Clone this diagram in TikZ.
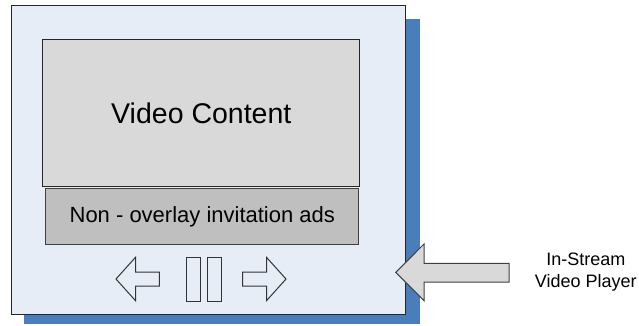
\documentclass[tikz,border=0pt]{standalone}
\usepackage{fontspec}
\setmainfont{Liberation Sans}
\usepackage{xcolor}
\usetikzlibrary{calc}
\usetikzlibrary{positioning}
\definecolor{shadowblue}{HTML}{4A7EBB}
\definecolor{playerbg}{HTML}{E7EDF7}
\definecolor{screengray}{HTML}{D9D9D9}
\definecolor{adgray}{HTML}{BFBFBF}

\begin{document}
\begin{tikzpicture}[x=1pt, y=-1pt, line width=1pt]
  \tikzstyle{box}=[draw=black!85, inner sep=0pt, anchor=north west]
  \tikzstyle{btn}=[draw=black!80, fill=playerbg, line join=miter]
\useasboundingbox (0,0) rectangle (639,325);
% player with its shadow
\fill[shadowblue] (24,19) rectangle (420,324.3);
\node[box, fill=playerbg, minimum width=394.3pt, minimum height=309pt] (player) at (10.7,5) {};
\node[box, fill=screengray, minimum width=317pt, minimum height=147.3pt,
      font=\fontsize{28.5}{32}\selectfont] (screen) at (42.3,38.7) {Video Content};
\node[box, draw=black!75, fill=adgray, minimum width=313pt, minimum height=56pt,
      font=\fontsize{22}{26}\selectfont] (ads) at (45.3,188.3) {Non - overlay invitation ads};
% controls
\foreach \d/\cx in {-1/137.65, 1/264.35}{
    \draw[btn, shift={(\cx,279)}, xscale=\d] (21.65,0) -- (2.15,-21.7) -- (2.15,-7)
        -- (-21.65,-7) -- (-21.65,7) -- (2.15,7) -- (2.15,21.7) -- cycle;
      }
\draw[btn] (186.7,257.3) rectangle (200.7,301);
\draw[btn] (207.3,257.3) rectangle (221.7,301);
% pointer
\node[align=center, font=\fontsize{18}{21.6}\selectfont] (label) at (585.8,272) {In-Stream\\Video Player};
\coordinate (tip) at (395.7,272.4);
\draw[draw=black!75, fill=screengray, line join=miter] (tip) -- (424,244) -- (424,263.3)
    -- (509,263.3) -- (509,282) -- (424,282) -- (424,300.7) -- cycle;
\end{tikzpicture}
\end{document}
